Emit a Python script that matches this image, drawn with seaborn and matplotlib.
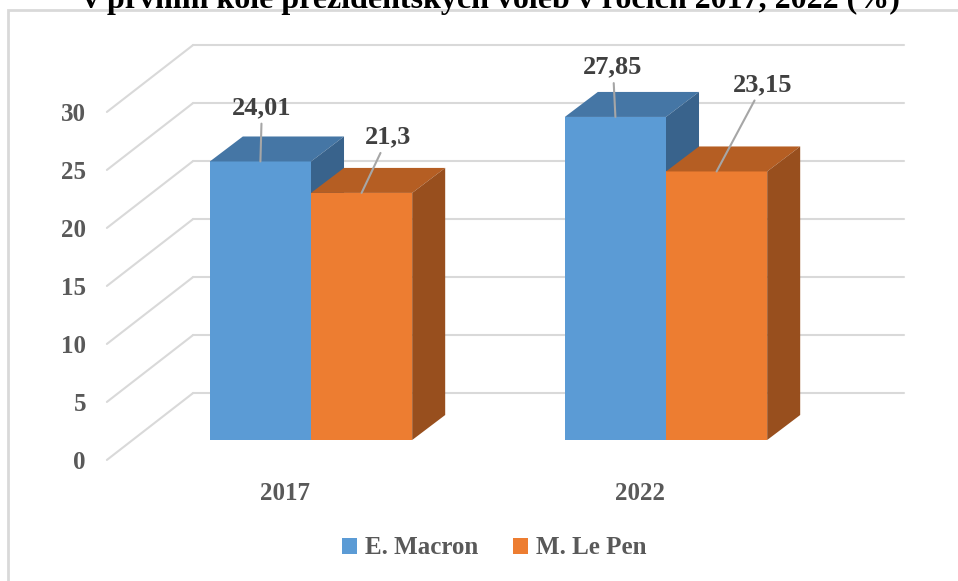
import pandas as pd
import seaborn as sns
import matplotlib.pyplot as plt
from matplotlib.patches import Polygon, Rectangle

# Data
years = ["2017", "2022"]
candidates = ["E. Macron", "M. Le Pen"]
macron = [24.01, 27.85]
lepen = [21.3, 23.15]
yticks = [0, 5, 10, 15, 20, 25, 30]
title = "v prvním kole prezidentských voleb v rocích 2017, 2022 (%)"

front_colors = ["#5B9BD5", "#ED7D31"]
top_colors = ["#4576A5", "#B55E23"]
side_colors = ["#39638C", "#984F1E"]

df = pd.DataFrame({
    "rok": years * 2,
    "kandidat": [c for c in candidates for _ in years],
    "hodnota": macron + lepen,
})

sns.set_style("white")
plt.rcParams["font.family"] = ["Liberation Serif", "DejaVu Serif"]
plt.rcParams["font.weight"] = "bold"

fig = plt.figure(figsize=(9.58, 5.81), dpi=100)
ax = fig.add_axes([0, 0, 1, 1])

sns.barplot(data=df, x="rok", y="hodnota", hue="kandidat", palette=front_colors,
            width=0.57, saturation=1, linewidth=0, ax=ax)

# pixel scale of the picture: 355 px per category, 11.6 px per unit
ax.set_xlim(-311 / 355, 647 / 355)
ax.set_ylim(-141 / 11.6, 440 / 11.6)
ax.axis("off")

# pseudo 3D geometry (data units)
front_left, front_dy = -0.575, -1.72
back_left, back_dy = -0.332, 4.05
wall_right = 1.67
bar_dx, bar_dy = 0.093, 2.155
front_dx = -0.073
grid_c = "#D9D9D9"

for t in yticks:
    ax.plot([front_left, back_left], [t + front_dy, t + back_dy], color=grid_c, lw=1.5, zorder=1)
    ax.plot([back_left, wall_right], [t + back_dy, t + back_dy], color=grid_c, lw=1.5, zorder=1)
    ax.annotate(str(t), xy=(front_left, t + front_dy), xytext=(-21, -3), textcoords="offset pixels",
                ha="right", va="center", fontsize=18, color="#595959", fontweight="bold")

for i, y in enumerate(years):
    ax.annotate(y, xy=(i + front_dx, front_dy), xytext=(0, -34), textcoords="offset pixels",
                ha="center", va="center", fontsize=18, color="#595959", fontweight="bold")

# label offsets (pixels) per hue, per year
label_offsets = [[(1.5, 54), (-2.5, 50)], [(26.5, 56), (46.5, 87)]]

bars = []
for j, cont in enumerate(ax.containers):
    for k, p in enumerate(cont.patches):
        bars.append((p.get_x(), j, k, p))

for rank, (x, j, k, p) in enumerate(sorted(bars, key=lambda b: b[0])):
    w, h = p.get_width(), p.get_height()
    z = 3 + rank
    p.set_zorder(z)
    top = Polygon([(x, h), (x + w, h), (x + w + bar_dx, h + bar_dy), (x + bar_dx, h + bar_dy)],
                  closed=True, fc=top_colors[j], ec="none", zorder=z)
    side = Polygon([(x + w, 0), (x + w, h), (x + w + bar_dx, h + bar_dy), (x + w + bar_dx, bar_dy)],
                   closed=True, fc=side_colors[j], ec="none", zorder=z)
    ax.add_patch(top)
    ax.add_patch(side)
    lab = f"{h:g}".replace(".", ",")
    ax.annotate(lab, xy=(x + w / 2, h), xytext=label_offsets[j][k], textcoords="offset pixels",
                ha="center", va="center", fontsize=19, color="#404040", fontweight="bold",
                arrowprops=dict(arrowstyle="-", color="#A6A6A6", lw=1.5, shrinkA=1, shrinkB=0),
                zorder=20)

leg = ax.legend(loc="center", bbox_to_anchor=(0.516, 0.057), bbox_transform=fig.transFigure,
                ncol=2, frameon=False, handlelength=0.6, handleheight=0.6, handletextpad=0.3,
                columnspacing=1.4, fontsize=18)
for t in leg.get_texts():
    t.set_color("#595959")

# chart border and title (cut off at the top, as in the source image)
fig.patches.append(Rectangle((8 / 958, -0.05), 1.2, 1.05 - 10 / 581, transform=fig.transFigure,
                             fill=False, ec=grid_c, lw=2))
fig.text(0.513, 1 - 8 / 581, title, ha="center", va="baseline", fontsize=23,
         fontweight="bold", color="black")

fig.savefig("out.png", dpi=100)
